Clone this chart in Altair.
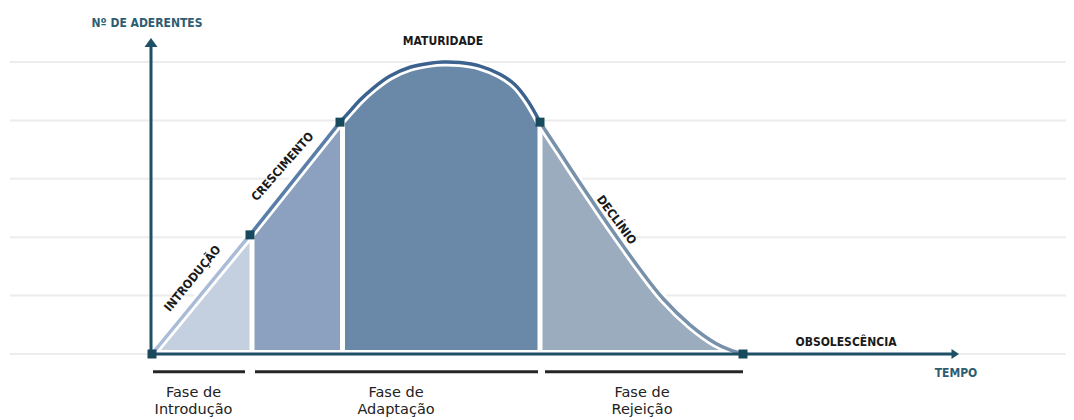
import altair as alt
import pandas as pd

# ---------------- data ----------------
phases = ["Introdução", "Crescimento", "Maturidade", "Declínio"]

intro_t = [0.0, 9.8]
intro_n = [0.0, 2.04]
cresc_t = [9.8, 18.8]
cresc_n = [2.04, 3.97]
mat_t = [18.8, 19.8, 20.8, 22.1, 23.8, 25.8, 27.8, 29.1, 30.8, 32.8, 34.8, 36.3, 37.6, 38.8]
mat_n = [3.97, 4.16, 4.35, 4.55, 4.76, 4.91, 4.98, 5.00, 4.99, 4.93, 4.79, 4.61, 4.33, 3.97]
dec_t = [38.8, 40.8, 42.6, 44.8, 46.5, 48.8, 51.1, 53.8, 56.3, 57.8, 59.1]
dec_n = [3.97, 3.45, 2.98, 2.42, 2.00, 1.45, 0.95, 0.50, 0.19, 0.07, 0.0]

grid_n = [0, 1, 2, 3, 4, 5]

phase_groups = ["Fase de\nIntrodução", "Fase de\nAdaptação", "Fase de\nRejeição"]
group_start = [0.1, 10.3, 39.3]
group_end = [9.3, 38.6, 59.1]
group_label_t = [4.15, 24.4, 49.0]

fill_colors = ["#c4cfe0", "#8ba1bf", "#6a88a8", "#9aacbe"]
line_colors = ["#a9bbd6", "#5a7ea8", "#3c6390", "#7891ab"]
AXIS = "#1d4f66"
MARK = "#174a5c"
TEAL_TXT = "#2e5d72"

# ---------------- tables ----------------
rows = []
for name, ts, ns in zip(phases, [intro_t, cresc_t, mat_t, dec_t], [intro_n, cresc_n, mat_n, dec_n]):
    for t, n in zip(ts, ns):
        rows.append({"fase": name, "t": t, "n": n})
curve = pd.DataFrame(rows)

junctions = pd.DataFrame({
    "t": [intro_t[0], cresc_t[0], mat_t[0], dec_t[0], dec_t[-1]],
    "n": [intro_n[0], cresc_n[0], mat_n[0], dec_n[0], dec_n[-1]],
})
gaps = pd.DataFrame({"t": [10.0, 19.05, 38.8], "n0": [0, 0, 0],
                     "n": [cresc_n[0], mat_n[0], dec_n[0]]})

X_DOM = [-14.4, 91.4]
Y_DOM = [-1.1301, 5.9247]
xs = alt.Scale(domain=X_DOM, nice=False, zero=False)
ys = alt.Scale(domain=Y_DOM, nice=False, zero=False)
INTERP = "catmull-rom"


def X(f):
    return alt.X(f, type="quantitative", scale=xs, axis=None)


def Y(f):
    return alt.Y(f, type="quantitative", scale=ys, axis=None, stack=None)


def X2(f):
    return alt.X2(f)


def Y2(f):
    return alt.Y2(f)


grid = alt.Chart(pd.DataFrame({"n": grid_n, "t0": -14.2, "t1": X_DOM[1]})).mark_rule(
    color="#ececec", strokeWidth=2
).encode(x=X("t0"), x2=X2("t1"), y=Y("n"))

area = alt.Chart(curve).mark_area(interpolate=INTERP, opacity=1).encode(
    x=X("t"), y=Y("n"), y2=alt.datum(0.07),
    fill=alt.Fill("fase:N", scale=alt.Scale(domain=phases, range=fill_colors), legend=None),
)

gap_rules = alt.Chart(gaps).mark_rule(color="white", strokeWidth=5).encode(
    x=X("t"), y=Y("n0"), y2=Y2("n")
)

white_band = alt.Chart(curve).mark_line(
    interpolate=INTERP, color="white", strokeWidth=9, strokeCap="round"
).encode(x=X("t"), y=Y("n"), detail="fase:N")

lines = alt.Chart(curve).mark_line(interpolate=INTERP, strokeWidth=3.5).encode(
    x=X("t"), y=Y("n"),
    stroke=alt.Stroke("fase:N", scale=alt.Scale(domain=phases, range=line_colors), legend=None),
)

# axes with arrows (annotation geometry)
axes_df = pd.DataFrame({"t": [0.0, -0.1], "n": [0.0, 0.0], "t2": [80.2, -0.1], "n2": [0.0, 5.27]})
axes = alt.Chart(axes_df).mark_rule(color=AXIS, strokeWidth=3).encode(
    x=X("t"), y=Y("n"), x2=X2("t2"), y2=Y2("n2")
)
arrow_up = alt.Chart(pd.DataFrame({"t": [-0.1], "n": [5.411]})).mark_point(
    shape="M0,0L1,1.4L-1,1.4Z", size=169, filled=True, color=AXIS, opacity=1
).encode(x=X("t"), y=Y("n"))
arrow_right = alt.Chart(pd.DataFrame({"t": [80.7], "n": [0.0]})).mark_point(
    shape="M0,0L-1.5,-1L-1.5,1Z", size=100, filled=True, color=AXIS, opacity=1
).encode(x=X("t"), y=Y("n"))

markers = alt.Chart(junctions).mark_square(size=81, color=MARK, opacity=1).encode(
    x=X("t"), y=Y("n")
)

FONT = "DejaVu Sans Condensed"
labels = pd.DataFrame([
    {"txt": "Nº DE ADERENTES", "t": -0.5, "n": 5.673, "a": 0, "c": TEAL_TXT},
    {"txt": "MATURIDADE", "t": 29.1, "n": 5.365, "a": 0, "c": "#1a1a1a"},
    {"txt": "OBSOLESCÊNCIA", "t": 69.4, "n": 0.21, "a": 0, "c": "#1a1a1a"},
    {"txt": "TEMPO", "t": 80.4, "n": -0.325, "a": 0, "c": TEAL_TXT},
    {"txt": "INTRODUÇÃO", "t": 4.05, "n": 1.293, "a": 309.4, "c": "#1a1a1a"},
    {"txt": "CRESCIMENTO", "t": 13.05, "n": 3.21, "a": 311.4, "c": "#1a1a1a"},
    {"txt": "DECLÍNIO", "t": 46.45, "n": 2.295, "a": 53.5, "c": "#1a1a1a"},
])
label_layer = alt.Chart(labels).mark_text(
    font=FONT, fontWeight="bold", fontSize=12, align="center", baseline="middle"
).encode(
    x=X("t"), y=Y("n"), text="txt:N", angle=alt.Angle("a:Q", scale=None),
    color=alt.Color("c:N", scale=None),
)

brackets = alt.Chart(pd.DataFrame({"t": group_start, "t2": group_end, "n": -0.303})).mark_rule(
    color="#262626", strokeWidth=3
).encode(x=X("t"), x2=X2("t2"), y=Y("n"))

g_rows = []
for lab, t in zip(phase_groups, group_label_t):
    l1, l2 = lab.split("\n")
    g_rows.append({"txt": l1, "t": t, "n": -0.66})
    g_rows.append({"txt": l2, "t": t, "n": -0.96})
group_text = alt.Chart(pd.DataFrame(g_rows)).mark_text(
    font="DejaVu Sans", fontSize=14.5, color="#222222", align="center", baseline="middle"
).encode(x=X("t"), y=Y("n"), text="txt:N")

chart = alt.layer(
    grid, area, gap_rules, white_band, lines, axes, arrow_up, arrow_right,
    markers, label_layer, brackets, group_text
).properties(
    width=1058, height=412, padding=0,
    autosize=alt.AutoSizeParams(type="none"),
    background="white",
).configure_view(stroke=None)

chart.save("out.html", embed_options={"renderer": "svg", "actions": False})
